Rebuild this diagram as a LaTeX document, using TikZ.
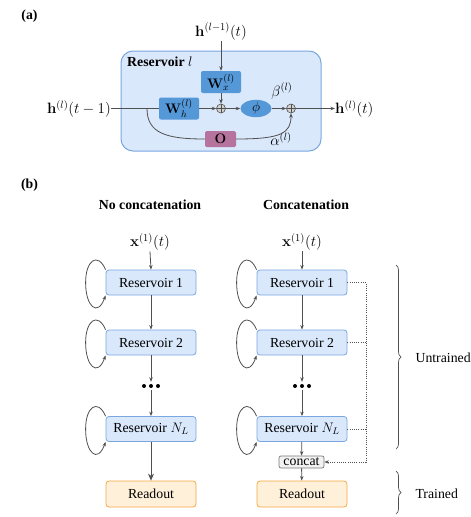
\RequirePackage{fix-cm}
\documentclass[tikz,border=0pt]{standalone}
\usepackage{amsmath}
\usepackage[no-math]{fontspec}
\setmainfont{Liberation Serif}
\usetikzlibrary{arrows.meta,decorations.pathreplacing,calc,shapes.geometric}
\definecolor{lc}{HTML}{505050}
\definecolor{rfill}{HTML}{DAE8FC}
\definecolor{rbord}{HTML}{7AA7E0}
\definecolor{wblue}{HTML}{5598D8}
\definecolor{ofill}{HTML}{FFF0DA}
\definecolor{obord}{HTML}{F5A742}
\definecolor{ocol}{HTML}{B5739D}
\definecolor{cfill}{HTML}{F2F2F2}
\definecolor{cbord}{HTML}{777777}
\newcommand{\rloop}[1]{\draw[arr] (#1.north west) .. controls +(-8,-18) and +(0,-22) .. ($(#1.west)+(-20,0)$) .. controls +(0,24) and +(-8,22) .. (#1.south west);}
\newcommand{\threedots}[1]{\fill[black] ($(#1.center)+(-7,0)$) circle (2pt) (#1.center) circle (2pt) ($(#1.center)+(7,0)$) circle (2pt);}
\begin{document}
\begin{tikzpicture}[x=1pt,y=-1pt,
  every node/.style={font=\fontsize{13.8}{16}\selectfont},
  mathlab/.style={font=\fontsize{15}{17}\selectfont},
  line/.style={draw=lc, line width=0.8pt},
  arr/.style={line, -{Stealth[length=4.5pt,width=3.5pt]}},
  bigarr/.style={line, -{Stealth[length=7pt,width=6pt]}},
  dotline/.style={draw=lc, line width=0.7pt, dash pattern=on 1pt off 1.2pt},
  bigbox/.style={rectangle, rounded corners=12pt, draw=rbord, fill=rfill, line width=1pt, inner sep=0pt},
  wbox/.style={rectangle, rounded corners=2pt, fill=wblue, minimum width=40pt, minimum height=22pt, inner sep=0pt},
  obox/.style={rectangle, rounded corners=1.5pt, fill=ocol, minimum width=31pt, minimum height=16pt, inner sep=0pt},
  phinode/.style={ellipse, fill=wblue, minimum width=31pt, minimum height=15pt, inner sep=0pt},
  opl/.style={circle, draw=lc, fill=gray!35, line width=0.6pt, minimum size=9pt, inner sep=0pt,
    path picture={\draw[lc, line width=0.6pt] (path picture bounding box.north) -- (path picture bounding box.south) (path picture bounding box.west) -- (path picture bounding box.east);}},
  resbox/.style={rectangle, rounded corners=3pt, draw=rbord, fill=rfill, line width=0.8pt, minimum width=90pt, minimum height=25pt, inner sep=0pt},
  readbox/.style={resbox, draw=obord, fill=ofill, minimum height=26pt},
  catbox/.style={rectangle, rounded corners=2pt, draw=cbord, fill=cfill, line width=0.7pt, minimum width=45pt, minimum height=12pt, inner sep=0.5pt},
  dotsnode/.style={rectangle, minimum width=20pt, minimum height=6pt, inner sep=0pt},
  bracestyle/.style={line, line width=0.7pt, decorate, decoration={brace, amplitude=5pt}}
]
\useasboundingbox (0,0) rectangle (471,517);
% ---------- (a) ----------
\node (la) at (29.5,16) {\textbf{(a)}};
\node[bigbox, minimum width=200pt, minimum height=100pt] (res) at (221,101) {};
\node[anchor=west, inner sep=0pt] (reslab) at (127,62) {\textbf{Reservoir} $l$};
\node[mathlab, anchor=base, inner sep=1pt] (htop) at (221,36) {$\mathbf{h}^{(l-1)}(t)$};
\node[wbox] (wx) at (221,82) {$\mathbf{W}_x^{(l)}$};
\node[wbox] (wh) at (179,108.5) {$\mathbf{W}_h^{(l)}$};
\node[opl] (o1) at (221,108.5) {};
\node[phinode] (phi) at (256,108.5) {$\phi$};
\node[opl] (o2) at (291,108.5) {};
\node[obox] (ob) at (220.5,139) {$\mathbf{O}$};
\node[mathlab] (beta) at (282,91) {$\beta^{(l)}$};
\node[mathlab] (alpha) at (281,139) {$\alpha^{(l)}$};
\node[mathlab, anchor=base east, inner sep=0pt] (hin) at (111,113.5) {$\mathbf{h}^{(l)}(t-1)$};
\node[mathlab, anchor=base west, inner sep=0pt] (hout) at (335,113.5) {$\mathbf{h}^{(l)}(t)$};
\coordinate (br) at (147,0);
\draw[arr] (htop.south) -- (wx.north);
\draw[arr] (wx.south) -- (o1.north);
\draw[line] (hin.east |- wh) -- (wh.west);
\draw[arr] (wh.east) -- (o1.west);
\draw[arr] (o1.east) -- (phi.west);
\draw[arr] (phi.east) -- (o2.west);
\draw[arr] (o2.east) -- (o2 -| hout.west);
\draw[line] (br |- wh) .. controls +(0,25) and +(-38,0) .. (ob.west);
\draw[arr] (ob.east) .. controls +(45,0) and +(0,20) .. (o2.south);
% ---------- (b) ----------
\node (lb) at (29.5,185) {\textbf{(b)}};
\node (t1) at (150,205) {\textbf{No concatenation}};
\node (t2) at (306,205) {\textbf{Concatenation}};
\node[mathlab, anchor=base, inner sep=1pt] (xl) at (150,246.5) {$\mathbf{x}^{(1)}(t)$};
\node[mathlab, anchor=base, inner sep=1pt] (xr) at (302,246.5) {$\mathbf{x}^{(1)}(t)$};
\node[resbox] (l1) at (151,282.5) {Reservoir 1};
\node[resbox] (l2) at (151,342.5) {Reservoir 2};
\node[dotsnode] (ld) at (151,386) {};
\node[resbox] (ln) at (151,429) {Reservoir $N_L$};
\node[readbox] (lr) at (151,494) {Readout};
\node[resbox] (r1) at (302,282.5) {Reservoir 1};
\node[resbox] (r2) at (302,342.5) {Reservoir 2};
\node[dotsnode] (rd) at (302,386) {};
\node[resbox] (rn) at (302,429) {Reservoir $N_L$};
\node[catbox] (cc) at (301.5,462) {concat};
\node[readbox] (rr) at (302,494) {Readout};
\threedots{ld}\threedots{rd}
\draw[arr] (xl.south) -- (l1.north);
\draw[arr] (l1) -- (l2);
\draw[arr] (l2.south) -- ($(ld.north)+(0,-1)$);
\draw[arr] ($(ld.south)+(0,1)$) -- (ln.north);
\draw[bigarr] (ln) -- (lr);
\draw[arr] (xr.south) -- (r1.north);
\draw[arr] (r1) -- (r2);
\draw[arr] (r2.south) -- ($(rd.north)+(0,-1)$);
\draw[arr] ($(rd.south)+(0,1)$) -- (rn.north);
\draw[arr] (rn) -- (cc);
\draw[arr] (cc) -- (rr);
\rloop{l1}\rloop{l2}\rloop{ln}
\rloop{r1}\rloop{r2}\rloop{rn}
\coordinate (bus) at (366,0);
\draw[dotline, -{Stealth[length=4.5pt,width=3.5pt]}] (r1.east) -- (r1.east -| bus) |- (cc.east);
\draw[dotline] (r2.east) -- (r2.east -| bus);
\draw[dotline] (rn.east) -- (rn.east -| bus);
\coordinate (ua) at (396,265);
\coordinate (ub) at (396,449);
\coordinate (ta) at (396,471);
\coordinate (tb) at (396,514);
\draw[bracestyle] (ua) -- (ub);
\draw[bracestyle] (ta) -- (tb);
\node[anchor=west] (ut) at (412,358) {Untrained};
\node[anchor=west] (tr) at (412,494) {Trained};
\end{tikzpicture}
\end{document}
